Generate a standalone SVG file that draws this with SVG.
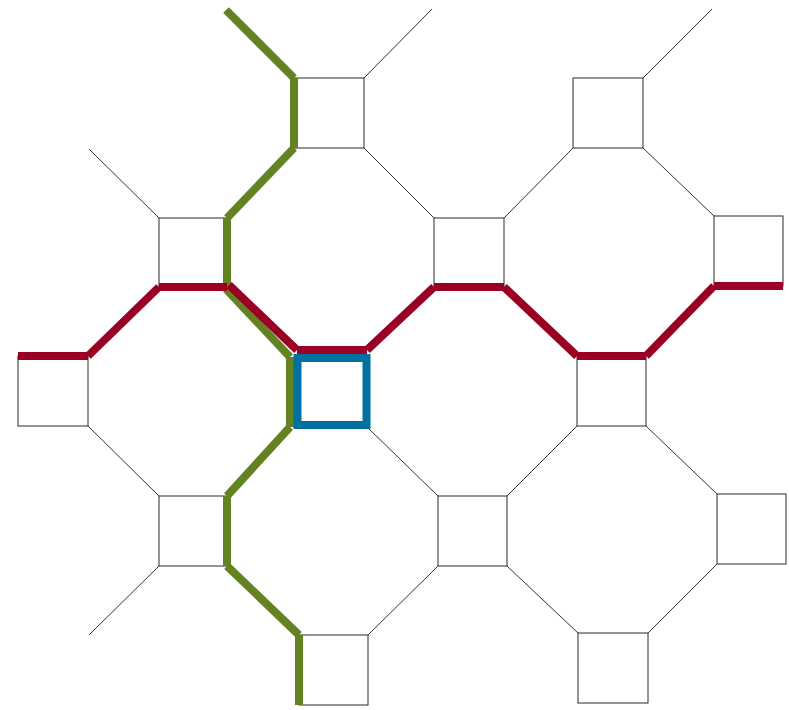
<svg xmlns="http://www.w3.org/2000/svg" width="789" height="710" viewBox="0 0 789 710">
<style>
.sq{fill:#fff;stroke:#2a2a2a;stroke-width:1}
.ln{stroke:#333;stroke-width:1;fill:none}
.r{stroke:#990024;stroke-width:8;stroke-linecap:butt;fill:none}
.g{stroke:#638222;stroke-width:8;stroke-linecap:butt;fill:none}
.b{stroke:#00709E;stroke-width:8;fill:none}
</style>
<rect width="789" height="710" fill="#fff"/>
<g id="connectors">
<line class="ln" x1="364" y1="78" x2="432" y2="9"/>
<line class="ln" x1="364" y1="148" x2="434" y2="218"/>
<line class="ln" x1="159" y1="218" x2="89" y2="149"/>
<line class="ln" x1="504" y1="218" x2="573" y2="148"/>
<line class="ln" x1="643" y1="78" x2="712" y2="9"/>
<line class="ln" x1="643" y1="148" x2="714" y2="216"/>
<line class="ln" x1="88" y1="426" x2="159" y2="496"/>
<line class="ln" x1="366" y1="426" x2="438" y2="496"/>
<line class="ln" x1="159" y1="566" x2="89" y2="635"/>
<line class="ln" x1="368" y1="635" x2="438" y2="566"/>
<line class="ln" x1="507" y1="496" x2="577" y2="426"/>
<line class="ln" x1="646" y1="426" x2="717" y2="494"/>
<line class="ln" x1="507" y1="566" x2="578" y2="633"/>
<line class="ln" x1="717" y1="564" x2="648" y2="633"/>
</g>
<g id="nodes">
<g id="A"><rect class="sq" x="294" y="78" width="70" height="70"/></g>
<g id="B"><rect class="sq" x="159" y="218" width="68" height="69"/></g>
<g id="C"><rect class="sq" x="434" y="218" width="70" height="69"/></g>
<g id="D"><rect class="sq" x="573" y="78" width="70" height="70"/></g>
<g id="E"><rect class="sq" x="714" y="216" width="69" height="70"/></g>
<g id="F"><rect class="sq" x="18" y="356" width="70" height="70"/></g>
<g id="G"><rect class="sq" x="297" y="357" width="69" height="69"/></g>
<g id="H"><rect class="sq" x="159" y="496" width="68" height="70"/></g>
<g id="I"><rect class="sq" x="299" y="635" width="69" height="70"/></g>
<g id="J"><rect class="sq" x="577" y="356" width="69" height="70"/></g>
<g id="K"><rect class="sq" x="438" y="496" width="69" height="70"/></g>
<g id="L"><rect class="sq" x="717" y="494" width="69" height="70"/></g>
<g id="M"><rect class="sq" x="578" y="633" width="70" height="70"/></g>
</g>
<g id="paths">
<g id="green-path">
<line class="g" x1="226" y1="10" x2="294" y2="78"/>
<line class="g" x1="294" y1="78" x2="294" y2="148"/>
<line class="g" x1="294" y1="148" x2="227" y2="218"/>
<line class="g" x1="227" y1="218" x2="227" y2="287"/>
<line class="g" x1="226" y1="289" x2="290" y2="357"/>
<line class="g" x1="290" y1="357" x2="290" y2="427"/>
<line class="g" x1="290" y1="427" x2="227" y2="496"/>
<line class="g" x1="227" y1="496" x2="227" y2="566"/>
<line class="g" x1="227" y1="566" x2="299" y2="635"/>
<line class="g" x1="299" y1="635" x2="299" y2="705"/>
</g>
<g id="red-path">
<line class="r" x1="18" y1="356" x2="88" y2="356"/>
<line class="r" x1="88" y1="356" x2="159" y2="287"/>
<line class="r" x1="159" y1="287" x2="227" y2="287"/>
<line class="r" x1="229" y1="285" x2="297" y2="350"/>
<line class="r" x1="297" y1="350" x2="367" y2="350"/>
<line class="r" x1="367" y1="350" x2="434" y2="287"/>
<line class="r" x1="434" y1="287" x2="504" y2="287"/>
<line class="r" x1="504" y1="287" x2="577" y2="356"/>
<line class="r" x1="577" y1="356" x2="646" y2="356"/>
<line class="r" x1="646" y1="356" x2="714" y2="286"/>
<line class="r" x1="714" y1="286" x2="783" y2="286"/>
</g>
<g id="blue-square"><rect class="b" x="297.5" y="358" width="69" height="67"/></g>
</g>
</svg>
